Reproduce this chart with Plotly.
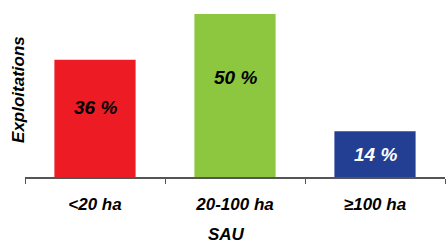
import plotly.graph_objects as go

categories = ["<20 ha", "20-100 ha", "≥100 ha"]
values = [36, 50, 14]
labels = ["36 %", "50 %", "14 %"]
label_y = [21.2, 30.4, 6.8]
colors = ["#ED1C24", "#8DC63F", "#233F94"]
label_colors = ["#000000", "#000000", "#FFFFFF"]

FONT = "Liberation Sans, Arial, sans-serif"

fig = go.Figure()
fig.add_trace(go.Bar(
    x=categories, y=values,
    marker=dict(color=colors, line=dict(width=0)),
    hoverinfo="skip",
))

for c, ly, t, lc in zip(categories, label_y, labels, label_colors):
    fig.add_annotation(x=c, y=ly, text=f"<b><i>{t}</i></b>", showarrow=False,
                       font=dict(family=FONT, size=19, color=lc),
                       xanchor="center", yanchor="middle")

fig.add_annotation(xref="paper", yref="paper", x=0, y=0.534, xshift=-6,
                   text="<b><i>Exploitations</i></b>", textangle=-90, showarrow=False,
                   font=dict(family=FONT, size=17, color="#000000"),
                   xanchor="center", yanchor="middle")
fig.add_annotation(xref="paper", yref="paper", x=0.479, y=0, yshift=-57,
                   text="<b><i>SAU</i></b>", showarrow=False, borderpad=0,
                   font=dict(family=FONT, size=17, color="#000000"),
                   xanchor="center", yanchor="middle")

fig.update_layout(
    width=446, height=246,
    margin=dict(l=25, r=1, t=14, b=69),
    paper_bgcolor="white", plot_bgcolor="white",
    bargap=0.42,
    showlegend=False,
    xaxis=dict(
        type="category",
        range=[-0.5, 2.5],
        showline=True, linecolor="#555555", linewidth=1.5,
        ticks="outside", tickson="boundaries", ticklen=5, tickcolor="#555555", tickwidth=1,
        tickfont=dict(family=FONT, size=17, color="#000000", weight="bold", style="italic"),
        showgrid=False, zeroline=False,
        ticklabelstandoff=11,
    ),
    yaxis=dict(
        range=[0, 50],
        showticklabels=False, showgrid=False, zeroline=False, showline=False, ticks="",
    ),
)

fig.write_html("out.html",
               config={"displayModeBar": False, "staticPlot": True},
               post_script="document.body.style.margin='0';document.body.style.overflow='hidden';")
